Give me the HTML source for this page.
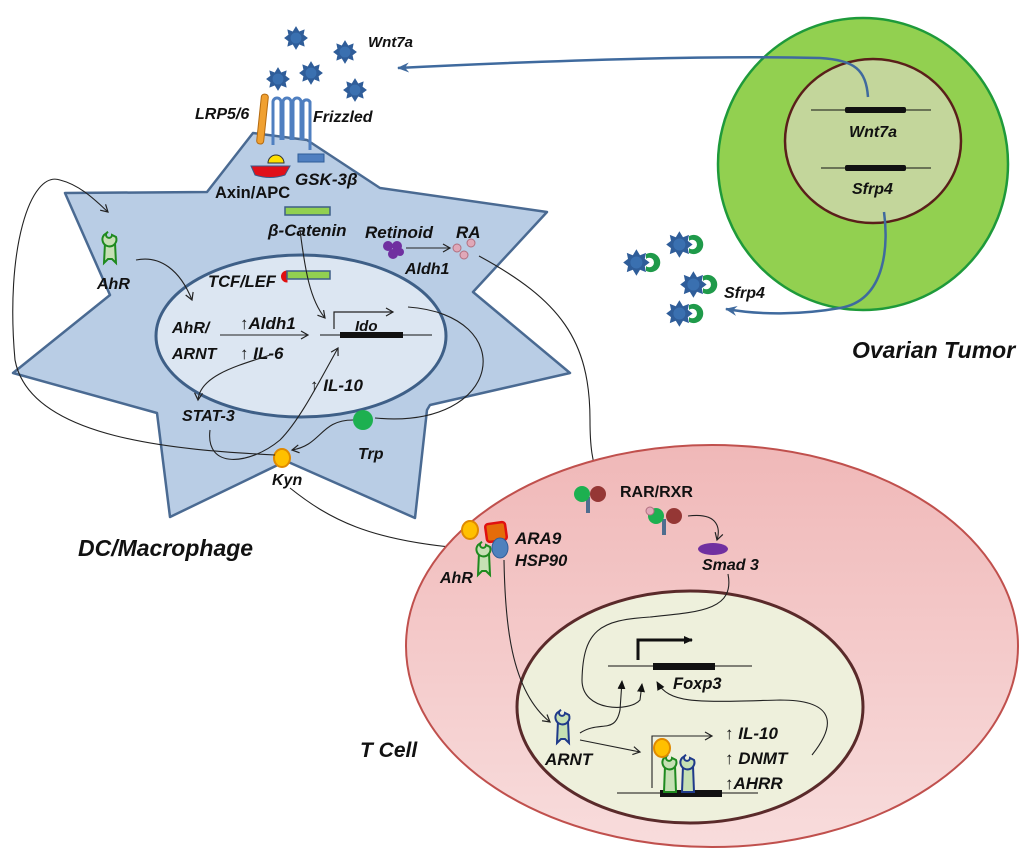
<!DOCTYPE html>
<html><head><meta charset="utf-8"><style>
html,body{margin:0;padding:0;background:#fff}
svg{display:block}
text{font-family:"Liberation Sans",sans-serif;font-weight:bold;font-style:italic;fill:#111}
</style></head><body>
<svg width="1024" height="860" viewBox="0 0 1024 860" xmlns="http://www.w3.org/2000/svg">
<defs>
<marker id="ah" markerWidth="10" markerHeight="10" refX="8" refY="5" orient="auto" markerUnits="userSpaceOnUse"><path d="M1,1 L8,5 L1,9" fill="none" stroke="#222" stroke-width="1.2"/></marker>
<marker id="ahf" markerWidth="10" markerHeight="10" refX="8" refY="5" orient="auto" markerUnits="userSpaceOnUse"><path d="M0,1 L9,5 L0,9 z" fill="#111"/></marker>
<marker id="ahb" markerWidth="14" markerHeight="12" refX="11" refY="6" orient="auto" markerUnits="userSpaceOnUse"><path d="M0,1 L12,6 L0,11 L4,6 z" fill="#3f6a9e"/></marker>
<symbol id="wnt" viewBox="-12 -12 24 24" overflow="visible">
<polygon points="0,-11 3,-6 8,-8 7,-3 11,0 7,3 8,8 3,6 0,11 -3,6 -8,8 -7,3 -11,0 -7,-3 -8,-8 -3,-6" fill="#2f5d99"/>
<circle r="5" fill="#3a70b0"/>
</symbol>
<symbol id="sfrp" viewBox="-12 -12 30 24" overflow="visible">
<use href="#wnt" x="-12" y="-12" width="24" height="24"/>
<path d="M8,-7 a8,8 0 1 1 0,14 l0,-4 a4,4 0 1 0 0,-6 z" fill="#1f9a4a"/>
</symbol>
<linearGradient id="tg" x1="0" y1="0" x2="0" y2="1"><stop offset="0" stop-color="#f0b8b8"/><stop offset="1" stop-color="#f8dcdc"/></linearGradient>
</defs>

<!-- Ovarian tumor -->
<ellipse cx="863" cy="164" rx="145" ry="146" fill="#92d050" stroke="#1e9a3a" stroke-width="2.5"/>
<ellipse cx="873" cy="141" rx="88" ry="82" fill="#c3d69b" stroke="#5a1f1a" stroke-width="2.5"/>
<line x1="811" y1="110" x2="931" y2="110" stroke="#111"/>
<rect x="845" y="107" width="61" height="6" rx="2" fill="#111"/>
<text x="849" y="137" font-size="16">Wnt7a</text>
<line x1="821" y1="168" x2="931" y2="168" stroke="#111"/>
<rect x="845" y="165" width="61" height="6" rx="2" fill="#111"/>
<text x="852" y="194" font-size="16">Sfrp4</text>
<path d="M868,97 C866,70 855,60 820,58 C700,55 520,62 398,68" fill="none" stroke="#3f6a9e" stroke-width="2.5" marker-end="url(#ahb)"/>
<path d="M884,212 C888,240 888,300 840,308 C800,315 760,315 726,309" fill="none" stroke="#3f6a9e" stroke-width="2.5" marker-end="url(#ahb)"/>
<use href="#sfrp" x="622" y="248" width="36" height="29"/>
<use href="#sfrp" x="665" y="230" width="36" height="29"/>
<use href="#sfrp" x="679" y="270" width="36" height="29"/>
<use href="#sfrp" x="665" y="299" width="36" height="29"/>
<text x="724" y="298" font-size="16">Sfrp4</text>
<text x="852" y="358" font-size="23">Ovarian  Tumor</text>

<!-- DC star -->
<path d="M65,193 L207,192 L253,133 L307,140 L380,188 L547,212 L473,292 L570,373 L430,405 L427,410 L415,518 L286,461 L170,517 L157,413 L13,373 L110,295 Z" fill="#b9cde5" stroke="#4a6a92" stroke-width="2.5" stroke-linejoin="round"/>
<ellipse cx="301" cy="336" rx="145" ry="81" fill="#dce6f2" stroke="#3e5f87" stroke-width="3"/>

<!-- Wnt ligands -->
<use href="#wnt" x="283" y="25" width="26" height="26"/>
<use href="#wnt" x="332" y="39" width="26" height="26"/>
<use href="#wnt" x="265" y="66" width="26" height="26"/>
<use href="#wnt" x="298" y="60" width="26" height="26"/>
<use href="#wnt" x="342" y="77" width="26" height="26"/>
<text x="368" y="47" font-size="15">Wnt7a</text>

<!-- receptors -->
<rect x="259" y="94" width="7" height="50" rx="3" fill="#f0a030" stroke="#b56b10" transform="rotate(6 262 119)"/>
<g fill="none" stroke="#4f7fc0" stroke-width="3">
<path d="M273,145 V102 a4,4 0 0 1 8,0 V140 M283,140 V102 a4,4 0 0 1 8,0 V140 M293,140 V102 a4,4 0 0 1 8,0 V140 M303,140 V102 a4,4 0 0 1 7,0 V150"/>
</g>
<text x="195" y="119" font-size="16">LRP5/6</text>
<text x="313" y="122" font-size="16">Frizzled</text>
<rect x="298" y="154" width="26" height="8" fill="#4f7fc0" stroke="#2f5d99"/>
<path d="M268,163 a8,8 0 0 1 16,0 z" fill="#ffe000" stroke="#333"/>
<path d="M251,166 L290,166 L285,175 Q270,180 255,175 Z" fill="#e0101a" stroke="#3a5a8a"/>
<text x="215" y="198" font-size="16.5" style="font-style:normal">Axin/APC</text>
<text x="295" y="185" font-size="17">GSK-3β</text>
<rect x="285" y="207" width="45" height="8" fill="#92d050" stroke="#3e5f87" stroke-width="1.5"/>
<text x="268" y="236" font-size="17">β-Catenin</text>
<text x="365" y="238" font-size="17">Retinoid</text>
<text x="456" y="238" font-size="17">RA</text>
<g fill="#7030a0"><circle cx="388" cy="246" r="5"/><circle cx="397" cy="246" r="5"/><circle cx="393" cy="254" r="5"/><circle cx="400" cy="252" r="4"/></g>
<g fill="#e0a8b8" stroke="#b07080"><circle cx="457" cy="248" r="4"/><circle cx="471" cy="243" r="4"/><circle cx="464" cy="255" r="4"/></g>
<line x1="406" y1="248" x2="450" y2="248" stroke="#222" marker-end="url(#ah)"/>
<text x="405" y="274" font-size="16">Aldh1</text>

<!-- AhR in DC -->
<g transform="translate(110,245)" fill="#c6e0b4" stroke="#1f8a1f" stroke-width="2">
<path d="M-5,-2 L5,-2 L6,18 L2,14 L-2,14 L-6,18 Z"/>
<path d="M-6,-10 a7,7 0 1 0 12,2 l-4,-2 a3,3 0 1 1 -4,-3 z"/>
</g>
<text x="97" y="289" font-size="16">AhR</text>

<text x="208" y="287" font-size="16.5">TCF/LEF</text>
<path d="M287,271 a5,5 0 0 0 0,11 z" fill="#e01010" stroke="#e01010"/>
<rect x="287" y="271" width="43" height="8" fill="#92d050" stroke="#3e5f87" stroke-width="1.5"/>
<text x="172" y="333" font-size="16">AhR/</text>
<text x="172" y="359" font-size="16">ARNT</text>
<text x="240" y="329" font-size="17">↑Aldh1</text>
<text x="240" y="359" font-size="17">↑ IL-6</text>
<line x1="320" y1="335" x2="432" y2="335" stroke="#111"/>
<rect x="340" y="332" width="63" height="6" fill="#111"/>
<text x="355" y="331" font-size="15">Ido</text>
<path d="M334,329 V312 H393" fill="none" stroke="#222" stroke-width="1.2" marker-end="url(#ah)"/>
<text x="310" y="391" font-size="17">↑ IL-10</text>
<text x="182" y="421" font-size="16">STAT-3</text>
<circle cx="363" cy="420" r="10" fill="#1db050"/>
<text x="358" y="459" font-size="16">Trp</text>
<ellipse cx="282" cy="458" rx="8" ry="9" fill="#ffc000" stroke="#e08a00" stroke-width="2"/>
<text x="272" y="485" font-size="16">Kyn</text>

<g fill="none" stroke="#222" stroke-width="1.1">
<path d="M220,335 L308,335" marker-end="url(#ah)"/>
<path d="M136,260 C160,255 180,270 192,300" marker-end="url(#ah)"/>
<path d="M300,230 C305,270 310,300 325,318" marker-end="url(#ah)"/>
<path d="M275,455 C180,450 30,440 15,360 C5,250 30,170 60,180 C80,185 95,200 108,212" marker-end="url(#ah)"/>
<path d="M210,430 C205,470 250,465 280,440 C300,420 320,380 338,348" marker-end="url(#ah)"/>
<path d="M270,355 C240,365 200,375 198,400" marker-end="url(#ah)"/>
<path d="M408,307 C520,315 505,430 375,418"/>
<path d="M353,420 C320,420 322,445 292,450" marker-end="url(#ah)"/>
<path d="M479,256 C560,300 590,340 590,420 C590,470 598,495 640,510" marker-end="url(#ah)"/>
<path d="M290,488 C330,520 370,540 460,548" marker-end="url(#ahf)"/>
</g>

<text x="78" y="556" font-size="23">DC/Macrophage</text>

<!-- T cell -->
<ellipse cx="712" cy="646" rx="306" ry="201" fill="url(#tg)" stroke="#c0504d" stroke-width="2"/>
<ellipse cx="690" cy="707" rx="173" ry="116" fill="#eef0dc" stroke="#5a2a2a" stroke-width="3"/>
<text x="360" y="757" font-size="21">T Cell</text>

<!-- receptor complex -->
<rect x="486" y="523" width="20" height="18" rx="3" fill="#e46c0a" stroke="#e01010" stroke-width="2.5" transform="rotate(-8 496 532)"/>
<ellipse cx="500" cy="548" rx="8" ry="10" fill="#4f81bd" stroke="#2f5d99"/>
<g transform="translate(484,555)" fill="#c6e0b4" stroke="#1f8a1f" stroke-width="2">
<path d="M-5,-2 L5,-2 L6,20 L2,16 L-2,16 L-6,20 Z"/>
<path d="M-6,-10 a7,7 0 1 0 12,2 l-4,-2 a3,3 0 1 1 -4,-3 z"/>
</g>
<ellipse cx="470" cy="530" rx="8" ry="9" fill="#ffc000" stroke="#e08a00" stroke-width="2"/>
<text x="515" y="544" font-size="17">ARA9</text>
<text x="515" y="566" font-size="16.5">HSP90</text>
<text x="440" y="583" font-size="16">AhR</text>

<!-- RAR/RXR -->
<g><rect x="586" y="497" width="4" height="16" fill="#4f6d8f"/><circle cx="582" cy="494" r="8" fill="#1db050"/><circle cx="598" cy="494" r="8" fill="#953735"/></g>
<text x="620" y="497" font-size="16" style="font-style:normal">RAR/RXR</text>
<g><rect x="662" y="519" width="4" height="16" fill="#4f6d8f"/><circle cx="656" cy="516" r="8" fill="#1db050"/><circle cx="674" cy="516" r="8" fill="#953735"/><circle cx="650" cy="511" r="4" fill="#e0a8b8" stroke="#b07080"/></g>
<ellipse cx="713" cy="549" rx="15" ry="6" fill="#7030a0"/>
<text x="702" y="570" font-size="16">Smad 3</text>

<!-- Foxp3 -->
<line x1="608" y1="666" x2="752" y2="666" stroke="#111"/>
<rect x="653" y="663" width="62" height="7" fill="#111"/>
<text x="673" y="689" font-size="16.5">Foxp3</text>
<path d="M638,660 V640 H692" fill="none" stroke="#111" stroke-width="3" marker-end="url(#ahf)"/>
<line x1="617" y1="793" x2="758" y2="793" stroke="#111"/>
<rect x="660" y="790" width="62" height="7" fill="#111"/>
<path d="M652,788 V736 H712" fill="none" stroke="#222" stroke-width="1.1" marker-end="url(#ah)"/>
<text x="725" y="739" font-size="17">↑ IL-10</text>
<text x="725" y="764" font-size="17">↑ DNMT</text>
<text x="725" y="789" font-size="17">↑AHRR</text>
<g transform="translate(670,778)" fill="#c6e0b4" stroke="#1f8a1f" stroke-width="2">
<path d="M-5,-12 L5,-12 L6,14 L-6,14 Z"/>
<path d="M-6,-20 a7,7 0 1 0 12,2 l-4,-2 a3,3 0 1 1 -4,-3 z"/>
</g>
<g transform="translate(688,778)" fill="#c6e0b4" stroke="#1f3a8a" stroke-width="2">
<path d="M-5,-12 L5,-12 L6,14 L-6,14 Z"/>
<path d="M-6,-20 a7,7 0 1 0 12,2 l-4,-2 a3,3 0 1 1 -4,-3 z"/>
</g>
<ellipse cx="662" cy="748" rx="8" ry="9" fill="#ffc000" stroke="#e08a00" stroke-width="2"/>
<g transform="translate(563,723)" fill="#c6e0b4" stroke="#1f3a8a" stroke-width="2">
<path d="M-5,-2 L5,-2 L6,20 L2,16 L-2,16 L-6,20 Z"/>
<path d="M-6,-10 a7,7 0 1 0 12,2 l-4,-2 a3,3 0 1 1 -4,-3 z"/>
</g>
<text x="545" y="765" font-size="17">ARNT</text>

<g fill="none" stroke="#222" stroke-width="1.1">
<path d="M504,560 C505,620 510,690 550,722" marker-end="url(#ah)"/>
<path d="M580,733 C600,720 615,735 620,710 L622,681" marker-end="url(#ahf)"/>
<path d="M580,740 L640,752" marker-end="url(#ah)"/>
<path d="M728,574 C735,610 700,612 650,617 C600,620 583,630 582,680 C582,712 630,712 640,700 L642,684" marker-end="url(#ahf)"/>
<path d="M688,516 C720,512 720,530 717,540" marker-end="url(#ah)"/>
<path d="M812,755 C840,720 830,700 780,700 C700,702 670,705 657,682" marker-end="url(#ahf)"/>
</g>
</svg>
</body></html>
